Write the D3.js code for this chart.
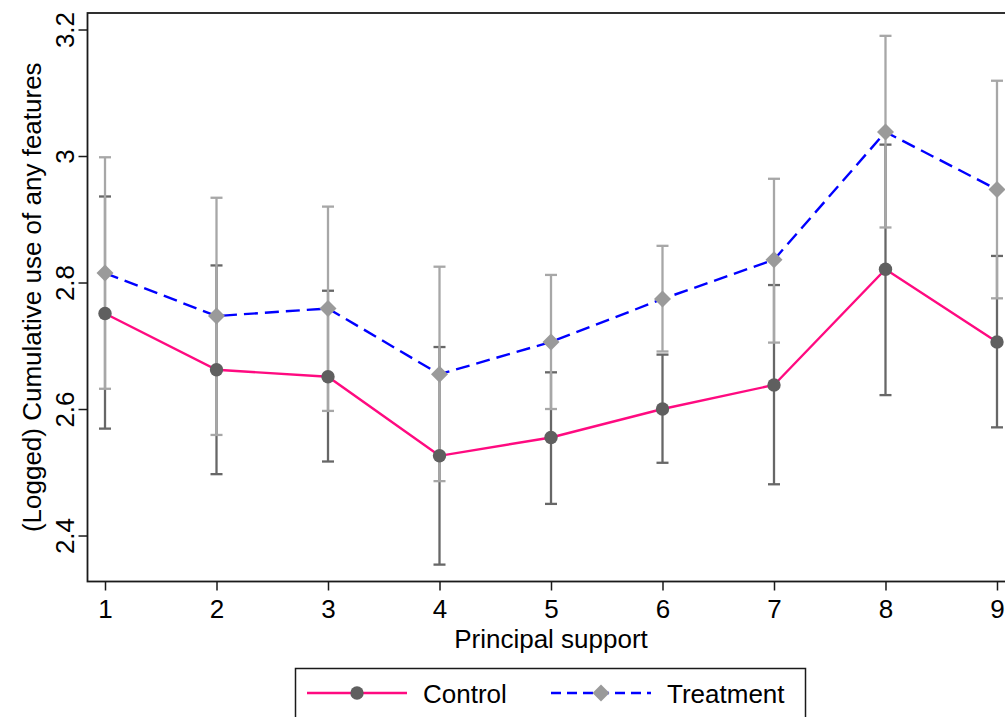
<!DOCTYPE html>
<html>
<head>
<meta charset="utf-8">
<script src="https://cdn.jsdelivr.net/npm/d3@7"></script>
<style>
  body { margin: 0; background: #fff; }
  svg { display: block; font-family: "Liberation Sans", Arial, sans-serif; }
</style>
</head>
<body>
<div class="container"></div>
<script>
var w = 1005;
var h = 717;

// data
var categories = [1, 2, 3, 4, 5, 6, 7, 8, 9];
var controlMean = [2.751, 2.662, 2.651, 2.526, 2.555, 2.600, 2.638, 2.821, 2.706];
var controlLo = [2.569, 2.497, 2.517, 2.354, 2.450, 2.515, 2.481, 2.622, 2.571];
var controlHi = [2.936, 2.827, 2.787, 2.698, 2.658, 2.686, 2.796, 3.018, 2.842];
var treatMean = [2.815, 2.747, 2.759, 2.655, 2.706, 2.774, 2.836, 3.038, 2.947];
var treatLo = [2.632, 2.559, 2.597, 2.486, 2.600, 2.691, 2.705, 2.887, 2.775];
var treatHi = [2.998, 2.934, 2.920, 2.825, 2.812, 2.858, 2.964, 3.190, 3.119];
var yTicks = [2.4, 2.6, 2.8, 3, 3.2];
var seriesNames = ["Control", "Treatment"];

var canvas = d3
  .select(".container")
  .append("svg")
  .attr("width", w)
  .attr("height", h);

var plotL = 87.5, plotR = 1014.5, plotT = 13, plotB = 581.5;

var xScale = d3.scaleLinear().domain([0.843, 9.157]).range([plotL, plotR]);
var yScale = d3.scaleLinear().domain([2.3273, 3.2261]).range([plotB, plotT]);

// plot frame
canvas
  .append("rect")
  .attr("x", plotL)
  .attr("y", plotT)
  .attr("width", plotR - plotL)
  .attr("height", plotB - plotT)
  .attr("fill", "none")
  .attr("stroke", "#1a1a1a")
  .attr("stroke-width", 1.8);

// x axis
var xAxis = canvas
  .append("g")
  .attr("transform", "translate(0," + plotB + ")")
  .call(d3.axisBottom(xScale).tickValues(categories).tickSize(9).tickSizeOuter(0).tickFormat(d3.format("d")));
xAxis.select(".domain").remove();
xAxis.selectAll("line").attr("stroke", "#1a1a1a").attr("stroke-width", 1.5);
xAxis.selectAll("text")
  .attr("y", 36.5)
  .attr("dy", 0)
  .attr("fill", "#000")
  .style("font-size", "26px");

// y axis
var yAxis = canvas
  .append("g")
  .attr("transform", "translate(" + plotL + ",0)")
  .call(d3.axisLeft(yScale).tickValues(yTicks).tickSize(9).tickSizeOuter(0).tickFormat(d => String(d)));
yAxis.select(".domain").remove();
yAxis.selectAll("line").attr("stroke", "#1a1a1a").attr("stroke-width", 1.5);
yAxis.selectAll("text")
  .attr("x", 0)
  .attr("y", -14)
  .attr("dy", 0)
  .attr("transform", "rotate(-90)")
  .attr("text-anchor", "middle")
  .attr("fill", "#000")
  .style("font-size", "26px");

// axis titles
canvas
  .append("text")
  .attr("x", (plotL + plotR) / 2)
  .attr("y", 648)
  .attr("text-anchor", "middle")
  .style("font-size", "26px")
  .text("Principal support");

canvas
  .append("text")
  .attr("transform", "translate(41," + (plotT + plotB) / 2 + ") rotate(-90)")
  .attr("text-anchor", "middle")
  .style("font-size", "26px")
  .text("(Logged) Cumulative use of any features");

// error bars
function drawCaps(lo, hi, color) {
  var g = canvas.append("g").attr("stroke", color).attr("stroke-width", 2.3).attr("fill", "none");
  categories.forEach(function(c, i) {
    var cx = xScale(c);
    g.append("line").attr("x1", cx).attr("x2", cx).attr("y1", yScale(lo[i])).attr("y2", yScale(hi[i]));
    g.append("line").attr("x1", cx - 6).attr("x2", cx + 6).attr("y1", yScale(lo[i])).attr("y2", yScale(lo[i]));
    g.append("line").attr("x1", cx - 6).attr("x2", cx + 6).attr("y1", yScale(hi[i])).attr("y2", yScale(hi[i]));
  });
}
drawCaps(controlLo, controlHi, "#676767");
drawCaps(treatLo, treatHi, "#a7a7a7");

var line = d3.line().x((d, i) => xScale(categories[i])).y(d => yScale(d));

canvas.append("path")
  .datum(controlMean)
  .attr("d", line)
  .attr("fill", "none")
  .attr("stroke", "#ff0a80")
  .attr("stroke-width", 2.4);

canvas.append("g")
  .selectAll("circle")
  .data(controlMean)
  .enter()
  .append("circle")
  .attr("cx", (d, i) => xScale(categories[i]))
  .attr("cy", d => yScale(d))
  .attr("r", 6.7)
  .attr("fill", "#5f5f5f");

canvas.append("path")
  .datum(treatMean)
  .attr("d", line)
  .attr("fill", "none")
  .attr("stroke", "#0000ff")
  .attr("stroke-width", 2.4)
  .attr("stroke-dasharray", "14,7");

var diamond = function(cx, cy, r) {
  return "M" + cx + "," + (cy - r) + "L" + (cx + r) + "," + cy + "L" + cx + "," + (cy + r) + "L" + (cx - r) + "," + cy + "Z";
};

canvas.append("g")
  .selectAll("path")
  .data(treatMean)
  .enter()
  .append("path")
  .attr("d", (d, i) => diamond(xScale(categories[i]), yScale(d), 8.5))
  .attr("fill", "#9a9a9a");

// legend
var legend = canvas.append("g");
legend.append("rect")
  .attr("x", 295.5)
  .attr("y", 668.5)
  .attr("width", 510)
  .attr("height", 70)
  .attr("fill", "#fff")
  .attr("stroke", "#1a1a1a")
  .attr("stroke-width", 1.5);

legend.append("line")
  .attr("x1", 307).attr("x2", 407).attr("y1", 693).attr("y2", 693)
  .attr("stroke", "#ff0a80").attr("stroke-width", 2.4);
legend.append("circle").attr("cx", 357).attr("cy", 693).attr("r", 6.7).attr("fill", "#5f5f5f");
legend.append("text").attr("x", 423).attr("y", 703).style("font-size", "26px").text(seriesNames[0]);

legend.append("line")
  .attr("x1", 551).attr("x2", 651).attr("y1", 693).attr("y2", 693)
  .attr("stroke", "#0000ff").attr("stroke-width", 2.4).attr("stroke-dasharray", "10,6");
legend.append("path").attr("d", diamond(601, 693, 8.5)).attr("fill", "#9a9a9a");
legend.append("text").attr("x", 667).attr("y", 703).style("font-size", "26px").text(seriesNames[1]);
</script>
</body>
</html>
